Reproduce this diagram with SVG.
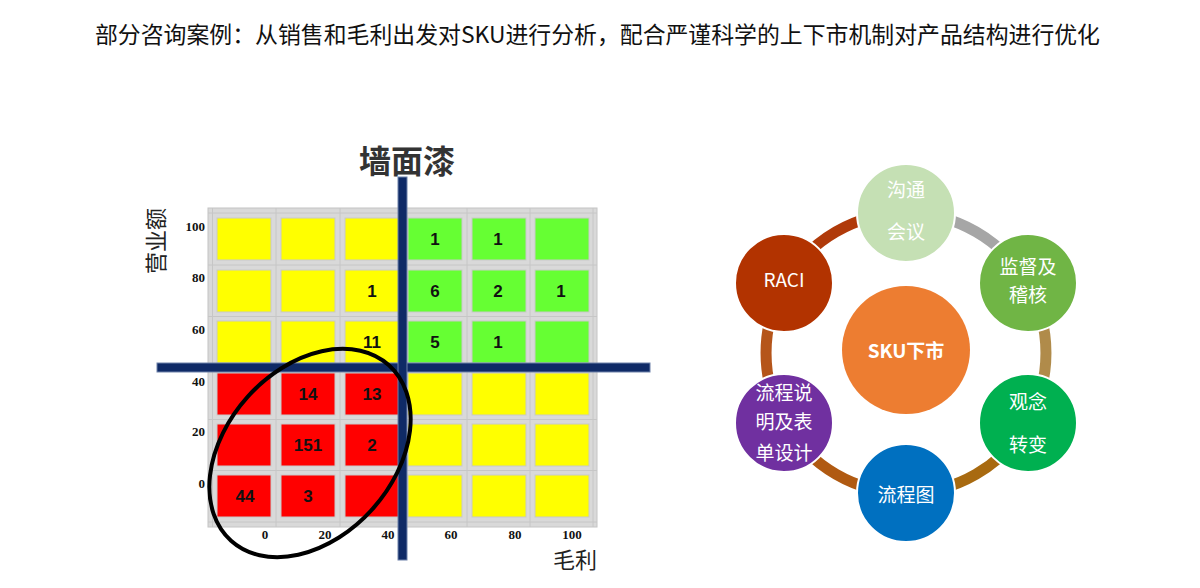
<svg xmlns="http://www.w3.org/2000/svg" width="1200" height="588" viewBox="0 0 1200 588">
<style>
.cjk{font-family:"Noto Sans CJK SC","Liberation Sans",sans-serif}
.num{font-family:"Liberation Sans","Noto Sans CJK SC",sans-serif;font-weight:bold;font-size:17px;fill:#111;text-anchor:middle}
.ax{font-family:"Liberation Serif",serif;font-weight:bold;font-size:13px;fill:#111}
.y{fill:#ffff00}.g{fill:#66ff33}.r{fill:#ff0000}
.cell{stroke:#c9c9c9;stroke-width:1}
.gl{stroke:#c6c6c6;stroke-width:1;fill:none}
.bar{fill:#0f2a66;stroke:#6f82aa;stroke-width:1}
.ring{fill:none;stroke-width:11}
.node{stroke:#fff;stroke-width:2}
.nt{font-family:"Noto Sans CJK SC","Liberation Sans",sans-serif;font-size:19px;fill:#fff;text-anchor:middle}
</style>
<rect width="1200" height="588" fill="#fff"/>
<text class="cjk" x="95" y="43" font-size="23" fill="#111" textLength="1005" lengthAdjust="spacingAndGlyphs">部分咨询案例：从销售和毛利出发对SKU进行分析，配合严谨科学的上下市机制对产品结构进行优化</text>

<g id="matrix">
<text class="cjk" x="407" y="173" font-size="32" font-weight="bold" fill="#333" text-anchor="middle">墙面漆</text>
<rect x="208" y="208" width="389" height="319" fill="#d9d9d9" stroke="#c4c4c4"/>
<g class="gl">
<path d="M212.5 208V527M276 208V527M340 208V527M467 208V527M530 208V527M593 208V527"/>
<path d="M208 213H597M208 265H597M208 316.5H597M208 419.5H597M208 470.5H597M208 522H597"/>
</g>
<g id="cells" class="cell">
<rect class="y" x="217" y="218" width="54" height="42"/><rect class="y" x="281" y="218" width="54" height="42"/><rect class="y" x="345" y="218" width="54" height="42"/><rect class="g" x="408" y="218" width="54" height="42"/><rect class="g" x="472" y="218" width="54" height="42"/><rect class="g" x="535" y="218" width="54" height="42"/>
<rect class="y" x="217" y="270" width="54" height="42"/><rect class="y" x="281" y="270" width="54" height="42"/><rect class="y" x="345" y="270" width="54" height="42"/><rect class="g" x="408" y="270" width="54" height="42"/><rect class="g" x="472" y="270" width="54" height="42"/><rect class="g" x="535" y="270" width="54" height="42"/>
<rect class="y" x="217" y="321" width="54" height="42"/><rect class="y" x="281" y="321" width="54" height="42"/><rect class="y" x="345" y="321" width="54" height="42"/><rect class="g" x="408" y="321" width="54" height="42"/><rect class="g" x="472" y="321" width="54" height="42"/><rect class="g" x="535" y="321" width="54" height="42"/>
<rect class="r" x="217" y="373" width="54" height="42"/><rect class="r" x="281" y="373" width="54" height="42"/><rect class="r" x="345" y="373" width="54" height="42"/><rect class="y" x="408" y="373" width="54" height="42"/><rect class="y" x="472" y="373" width="54" height="42"/><rect class="y" x="535" y="373" width="54" height="42"/>
<rect class="r" x="217" y="424" width="54" height="42"/><rect class="r" x="281" y="424" width="54" height="42"/><rect class="r" x="345" y="424" width="54" height="42"/><rect class="y" x="408" y="424" width="54" height="42"/><rect class="y" x="472" y="424" width="54" height="42"/><rect class="y" x="535" y="424" width="54" height="42"/>
<rect class="r" x="217" y="475" width="54" height="42"/><rect class="r" x="281" y="475" width="54" height="42"/><rect class="r" x="345" y="475" width="54" height="42"/><rect class="y" x="408" y="475" width="54" height="42"/><rect class="y" x="472" y="475" width="54" height="42"/><rect class="y" x="535" y="475" width="54" height="42"/>
</g>
<rect class="bar" x="157" y="363" width="493" height="9"/>
<rect class="bar" x="398" y="177" width="9" height="383"/>
<g id="counts">
<text class="num" x="435" y="245">1</text><text class="num" x="498" y="245">1</text>
<text class="num" x="372" y="297">1</text><text class="num" x="435" y="297">6</text><text class="num" x="498" y="297">2</text><text class="num" x="561" y="297">1</text>
<text class="num" x="372" y="348">11</text><text class="num" x="435" y="348">5</text><text class="num" x="498" y="348">1</text>
<text class="num" x="308" y="400">14</text><text class="num" x="372" y="400">13</text>
<text class="num" x="308" y="451">151</text><text class="num" x="372" y="451">2</text>
<text class="num" x="245" y="502">44</text><text class="num" x="308" y="502">3</text>
</g>
<g id="yaxis" class="ax" text-anchor="end">
<text x="205" y="231">100</text><text x="205" y="282">80</text><text x="205" y="334">60</text><text x="205" y="386">40</text><text x="205" y="436">20</text><text x="205" y="488">0</text>
</g>
<g id="xaxis" class="ax" text-anchor="middle">
<text x="265" y="539">0</text><text x="325" y="539">20</text><text x="388" y="539">40</text><text x="451" y="539">60</text><text x="515" y="539">80</text><text x="572" y="539">100</text>
</g>
<text class="cjk" transform="translate(164,241) rotate(-90)" font-size="22" fill="#222" text-anchor="middle">营业额</text>
<text class="cjk" x="575" y="568" font-size="22" fill="#222" text-anchor="middle">毛利</text>
<ellipse cx="310" cy="453" rx="118" ry="84" transform="rotate(-48 310 453)" fill="none" stroke="#000" stroke-width="4"/>
</g>

<g id="connectors">
<path class="ring" stroke="#a6a6a6" d="M906 213A140 140 0 0 1 1027.2 283"/>
<path class="ring" stroke="#b08b4a" d="M1027.2 283A140 140 0 0 1 1027.2 423"/>
<path class="ring" stroke="#a86a10" d="M1027.2 423A140 140 0 0 1 906 493"/>
<path class="ring" stroke="#b05a12" d="M906 493A140 140 0 0 1 784.8 423"/>
<path class="ring" stroke="#b5551a" d="M784.8 423A140 140 0 0 1 784.8 283"/>
<path class="ring" stroke="#b03a0a" d="M784.8 283A140 140 0 0 1 906 213"/>
</g>

<g id="n-center"><circle cx="906" cy="350" r="64" fill="#ed7d31"/><text class="nt" x="906" y="358" font-size="20" font-weight="bold">SKU下市</text></g>
<g id="n-comm"><circle class="node" cx="906" cy="213" r="49" fill="#c5e0b4"/><text class="nt" x="906" y="197">沟通</text><text class="nt" x="906" y="239">会议</text></g>
<g id="n-audit"><circle class="node" cx="1028" cy="283" r="49" fill="#70b545"/><text class="nt" x="1028" y="274">监督及</text><text class="nt" x="1028" y="302">稽核</text></g>
<g id="n-mind"><circle class="node" cx="1028" cy="423" r="49" fill="#00b050"/><text class="nt" x="1028" y="409">观念</text><text class="nt" x="1028" y="452">转变</text></g>
<g id="n-flow"><circle class="node" cx="906" cy="493" r="49" fill="#0070c0"/><text class="nt" x="906" y="502">流程图</text></g>
<g id="n-doc"><circle class="node" cx="784" cy="423" r="49" fill="#7030a0"/><text class="nt" x="784" y="400">流程说</text><text class="nt" x="784" y="429">明及表</text><text class="nt" x="784" y="460">单设计</text></g>
<g id="n-raci"><circle class="node" cx="784" cy="283" r="49" fill="#b23300"/><text class="nt" x="784" y="287" font-family="'Open Sans','Liberation Sans',sans-serif" font-size="20">RACI</text></g>
</svg>
